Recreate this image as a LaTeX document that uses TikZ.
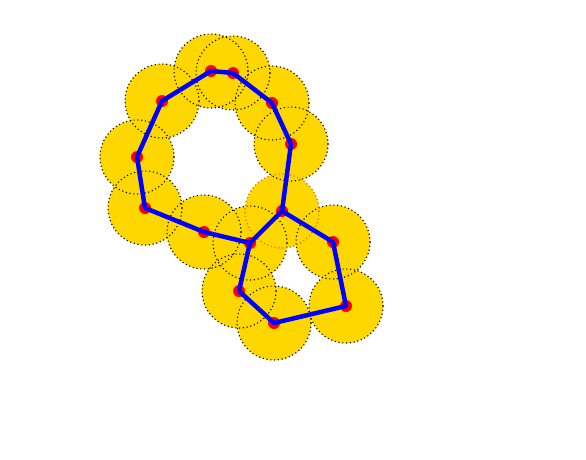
\documentclass[tikz,border=0pt]{standalone}
\usepackage{xcolor}
\usepackage{tikz}
\definecolor{shell}{RGB}{255,215,0}
\definecolor{rimo}{RGB}{210,120,40}

\begin{document}
\begin{tikzpicture}[
  x=0.025cm, y=-0.025cm,
  cloud/.style={fill=shell},
  rim/.style={draw=black, line width=0.8pt, dash pattern=on 0.8pt off 1.9pt},
  atom/.style={circle, fill=red, inner sep=0pt, minimum size=0.3cm},
  bond/.style={draw=blue, line width=3.2pt, line join=round}
]
\useasboundingbox (0,0) rectangle (586,460);

% atom centres
\foreach \n/\x/\y in {1/211/71, 2/233/73, 3/272/103, 4/291/144, 5/282/211,
                      6/250/243, 7/204/232, 8/145/208, 9/137/157, 10/162/101,
                      11/333/242, 12/346/306, 13/274/323, 14/239/291}
  \coordinate (c\n) at (\x,\y);

% spheres: fills first, rims on top
\foreach \n in {1,...,14}
  \fill[cloud] (c\n) circle (37);
\foreach \n in {1,2,3,4,6,7,8,9,10,11,12,13,14}
  \draw[rim] (c\n) circle (37);
\draw[rim, draw=rimo, line width=1pt] (c5) circle (37);

% atoms
\foreach \n in {1,...,14}
  \node[atom] (a\n) at (c\n) {};

% bonds
\draw[bond] (a1.center) -- (a2.center) -- (a3.center) -- (a4.center) -- (a5.center)
  -- (a6.center) -- (a7.center) -- (a8.center) -- (a9.center) -- (a10.center) -- cycle;
\draw[bond] (a5.center) -- (a11.center) -- (a12.center) -- (a13.center)
  -- (a14.center) -- (a6.center);
\end{tikzpicture}
\end{document}
